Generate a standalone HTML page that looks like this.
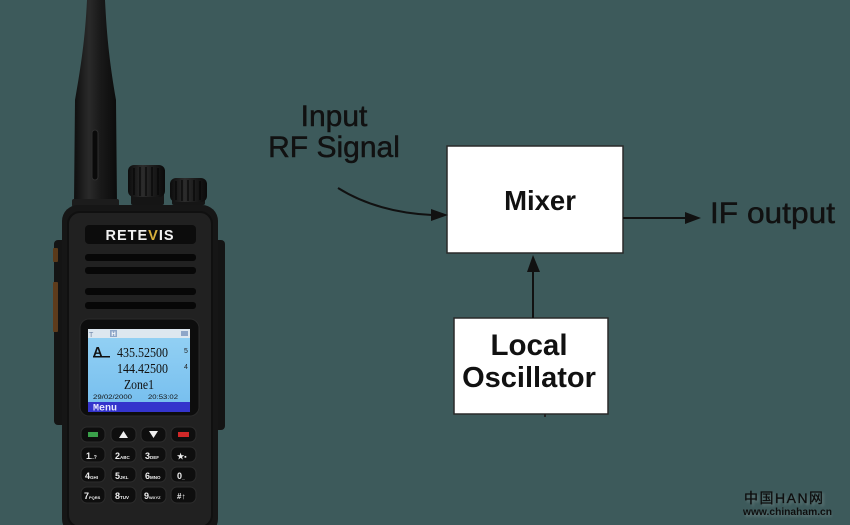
<!DOCTYPE html>
<html><head><meta charset="utf-8"><style>
html,body{margin:0;padding:0;background:#3d5a5b;}
svg{display:block;}
.wm{font-family:"Liberation Sans","Noto Sans CJK SC",sans-serif;}
</style></head><body>
<svg width="850" height="525" viewBox="0 0 850 525" xmlns="http://www.w3.org/2000/svg">
<defs>
<linearGradient id="ant" x1="0" x2="1" y1="0" y2="0">
<stop offset="0" stop-color="#0e0e0e"/><stop offset="0.35" stop-color="#2a2a2a"/><stop offset="0.6" stop-color="#1a1a1a"/><stop offset="1" stop-color="#0b0b0b"/>
</linearGradient>
<linearGradient id="knob" x1="0" x2="1" y1="0" y2="0">
<stop offset="0" stop-color="#0c0c0c"/><stop offset="0.4" stop-color="#2c2c2c"/><stop offset="0.7" stop-color="#1a1a1a"/><stop offset="1" stop-color="#0a0a0a"/>
</linearGradient>
<linearGradient id="lcd" x1="0" x2="0" y1="0" y2="1">
<stop offset="0" stop-color="#95d2f4"/><stop offset="1" stop-color="#74bdee"/>
</linearGradient>
<filter id="blur" x="-20%" y="-50%" width="140%" height="200%"><feGaussianBlur stdDeviation="1.2"/></filter>
</defs>
<rect width="850" height="525" fill="#3d5a5b"/>

<!-- Antenna -->
<path d="M87,0 L105,0 C107,40 110,65 116,100 L117,204 L74,204 L75,100 C81,65 85,40 87,0 Z" fill="url(#ant)"/>
<rect x="92" y="130" width="6" height="50" rx="3" fill="#0a0a0a" stroke="#2e2e2e" stroke-width="1"/>
<rect x="72" y="199" width="47" height="8" rx="2" fill="#1c1c1c"/>

<!-- Knobs -->
<rect x="131" y="193" width="33" height="12" rx="2" fill="#151515"/>
<rect x="128" y="165" width="37" height="32" rx="6" fill="url(#knob)"/>
<g stroke="#050505" stroke-width="1.2">
<line x1="134" y1="168" x2="134" y2="195"/><line x1="140" y1="167" x2="140" y2="196"/><line x1="146" y1="167" x2="146" y2="196"/><line x1="152" y1="167" x2="152" y2="196"/><line x1="158" y1="168" x2="158" y2="195"/>
</g>
<rect x="172" y="197" width="33" height="8" rx="2" fill="#151515"/>
<rect x="170" y="178" width="37" height="24" rx="6" fill="url(#knob)"/>
<g stroke="#050505" stroke-width="1.2">
<line x1="176" y1="181" x2="176" y2="200"/><line x1="182" y1="180" x2="182" y2="201"/><line x1="188" y1="180" x2="188" y2="201"/><line x1="194" y1="180" x2="194" y2="201"/><line x1="200" y1="181" x2="200" y2="200"/>
</g>

<!-- Body -->
<rect x="54" y="240" width="12" height="185" rx="4" fill="#141414"/>
<rect x="214" y="240" width="11" height="190" rx="4" fill="#141414"/>
<rect x="53" y="248" width="5" height="14" rx="1" fill="#5a3a1a"/>
<rect x="53" y="282" width="5" height="50" rx="1" fill="#5e3c1c"/>
<rect x="62" y="205" width="156" height="330" rx="16" fill="#161616"/>
<rect x="68" y="212" width="144" height="315" rx="12" fill="#212121" stroke="#101010" stroke-width="2"/>

<!-- Logo -->
<rect x="85" y="225" width="111" height="19" rx="4" fill="#0c0c0c"/>
<text x="140" y="240" text-anchor="middle" font-family="Liberation Sans, sans-serif" font-weight="bold" font-size="14.5" fill="#f2f2f2" letter-spacing="1">RETE<tspan fill="#d8b03c">V</tspan>IS</text>

<!-- Speaker slots -->
<g fill="#070707">
<rect x="85" y="254" width="111" height="7" rx="3"/>
<rect x="85" y="267" width="111" height="7" rx="3"/>
<rect x="85" y="288" width="111" height="7" rx="3"/>
<rect x="85" y="302" width="111" height="7" rx="3"/>
</g>

<!-- Screen -->
<rect x="80" y="319" width="119" height="97" rx="9" fill="#0d0d0d" stroke="#2a2a2a" stroke-width="1"/>
<rect x="88" y="329" width="102" height="83" fill="url(#lcd)"/>
<rect x="88" y="329" width="102" height="9" fill="#dde7ef"/>
<rect x="110" y="330" width="7" height="7" fill="#8ea6c8"/>
<text x="113.5" y="336" text-anchor="middle" font-family="Liberation Sans, sans-serif" font-size="6" font-weight="bold" fill="#fff">H</text>
<rect x="181" y="331" width="7" height="5" fill="#8ea6c8"/>
<text x="89" y="337" font-family="Liberation Sans, sans-serif" font-size="7" fill="#6f85a8">T</text>
<text x="93" y="356" font-family="Liberation Sans, sans-serif" font-weight="bold" font-size="13" fill="#111">A</text>
<rect x="93" y="356" width="17" height="1.5" fill="#111"/>
<g font-family="Liberation Serif, serif" fill="#111">
<text x="117" y="357" font-size="13.5" textLength="51" lengthAdjust="spacingAndGlyphs">435.52500</text>
<text x="117" y="373" font-size="13.5" textLength="51" lengthAdjust="spacingAndGlyphs">144.42500</text>
<text x="124" y="389" font-size="13.5" textLength="30" lengthAdjust="spacingAndGlyphs">Zone1</text>
</g>
<text x="184" y="353" font-family="Liberation Sans, sans-serif" font-size="7" fill="#222">5</text>
<text x="184" y="369" font-family="Liberation Sans, sans-serif" font-size="7" fill="#222">4</text>
<text x="93" y="399" font-family="Liberation Sans, sans-serif" font-size="6.5" fill="#111" textLength="39" lengthAdjust="spacingAndGlyphs">29/02/2000</text>
<text x="148" y="399" font-family="Liberation Sans, sans-serif" font-size="6.5" fill="#111" textLength="30" lengthAdjust="spacingAndGlyphs">20:53:02</text>
<rect x="88" y="402" width="102" height="10" fill="#3434cc"/>
<text x="93" y="410.5" font-family="Liberation Mono, monospace" font-weight="bold" font-size="10" fill="#e8e8ff">Menu</text>

<!-- Keypad -->
<g fill="#0e0e0e" stroke="#2c2c2c" stroke-width="1">
<rect x="81" y="427" width="24" height="15" rx="6"/><rect x="111" y="427" width="25" height="15" rx="6"/><rect x="141" y="427" width="25" height="15" rx="6"/><rect x="171" y="427" width="25" height="15" rx="6"/>
<rect x="81" y="447" width="24" height="15" rx="6"/><rect x="111" y="447" width="25" height="15" rx="6"/><rect x="141" y="447" width="25" height="15" rx="6"/><rect x="171" y="447" width="25" height="15" rx="6"/>
<rect x="81" y="467" width="24" height="15" rx="6"/><rect x="111" y="467" width="25" height="15" rx="6"/><rect x="141" y="467" width="25" height="15" rx="6"/><rect x="171" y="467" width="25" height="15" rx="6"/>
<rect x="81" y="487" width="24" height="16" rx="6"/><rect x="111" y="487" width="25" height="16" rx="6"/><rect x="141" y="487" width="25" height="16" rx="6"/><rect x="171" y="487" width="25" height="16" rx="6"/>
</g>
<rect x="88" y="432" width="10" height="5" fill="#3aa04a"/>
<rect x="178" y="432" width="11" height="5" fill="#d02828"/>
<path d="M119,438 L123.5,431 L128,438 Z" fill="#eee"/>
<path d="M149,431 L158,431 L153.5,438 Z" fill="#eee"/>
<g font-family="Liberation Sans, sans-serif" font-weight="bold" fill="#eee">
<text x="86" y="459" font-size="9">1<tspan font-size="5">..?</tspan></text>
<text x="115" y="459" font-size="9">2<tspan font-size="4.5">ABC</tspan></text>
<text x="145" y="459" font-size="9">3<tspan font-size="4.5">DEF</tspan></text>
<text x="177" y="459" font-size="8">★<tspan font-size="7">▪</tspan></text>
<text x="85" y="479" font-size="9">4<tspan font-size="4.5">GHI</tspan></text>
<text x="115" y="479" font-size="9">5<tspan font-size="4.5">JKL</tspan></text>
<text x="145" y="479" font-size="9">6<tspan font-size="4.5">MNO</tspan></text>
<text x="177" y="479" font-size="9">0<tspan font-size="5">_</tspan></text>
<text x="84" y="499" font-size="9">7<tspan font-size="4">PQRS</tspan></text>
<text x="115" y="499" font-size="9">8<tspan font-size="4.5">TUV</tspan></text>
<text x="144" y="499" font-size="9">9<tspan font-size="4">WXYZ</tspan></text>
<text x="177" y="499" font-size="8">#↑</text>
</g>

<!-- Diagram -->
<g font-family="Liberation Sans, Arial, sans-serif" fill="#111" stroke="#111" stroke-width="0.5">
<text x="334" y="126" text-anchor="middle" font-size="30">Input</text>
<text x="334" y="157" text-anchor="middle" font-size="30">RF Signal</text>
<text x="710" y="223" font-size="30" textLength="125" lengthAdjust="spacingAndGlyphs">IF output</text>
</g>

<rect x="447" y="146" width="176" height="107" fill="#fff" stroke="#2a2a2a" stroke-width="1.5"/>
<text x="540" y="210" text-anchor="middle" font-family="Liberation Sans, Arial, sans-serif" font-weight="bold" font-size="27.5" fill="#111">Mixer</text>

<rect x="454" y="318" width="154" height="96" fill="#fff" stroke="#2a2a2a" stroke-width="1.5"/>
<g font-family="Liberation Sans, Arial, sans-serif" font-weight="bold" fill="#111" text-anchor="middle">
<text x="529" y="355" font-size="29.5">Local</text>
<text x="529" y="387" font-size="29">Oscillator</text>
</g>

<!-- Input arrow -->
<path d="M338,188 C362,203 392,213 432,215" fill="none" stroke="#111" stroke-width="2"/>
<path d="M448,215 L431,209 L431,221 Z" fill="#111"/>

<!-- IF arrow -->
<line x1="623" y1="218" x2="688" y2="218" stroke="#111" stroke-width="2"/>
<path d="M701,218 L685,212 L685,224 Z" fill="#111"/>

<!-- LO arrow -->
<line x1="533" y1="318" x2="533" y2="266" stroke="#111" stroke-width="2"/>
<path d="M533,255 L527,272 L540,272 Z" fill="#111"/>
<rect x="544" y="414" width="2" height="3" fill="#222"/>

<!-- Watermark -->
<g class="wm">
<text x="746" y="505" font-size="14" fill="#9aa8a8" opacity="0.45" filter="url(#blur)" letter-spacing="1.5">中国HAN网</text>
<text x="744" y="503" font-size="14" fill="#0e0e0e" stroke="#0e0e0e" stroke-width="0.3" letter-spacing="1.5">中国HAN网</text>
<text x="745" y="517" font-size="10" font-weight="bold" fill="#9aa8a8" opacity="0.4" filter="url(#blur)">www.chinaham.cn</text>
<text x="743" y="515" font-size="10" font-weight="bold" fill="#0e0e0e" textLength="89" lengthAdjust="spacingAndGlyphs">www.chinaham.cn</text>
</g>
</svg>
</body></html>
